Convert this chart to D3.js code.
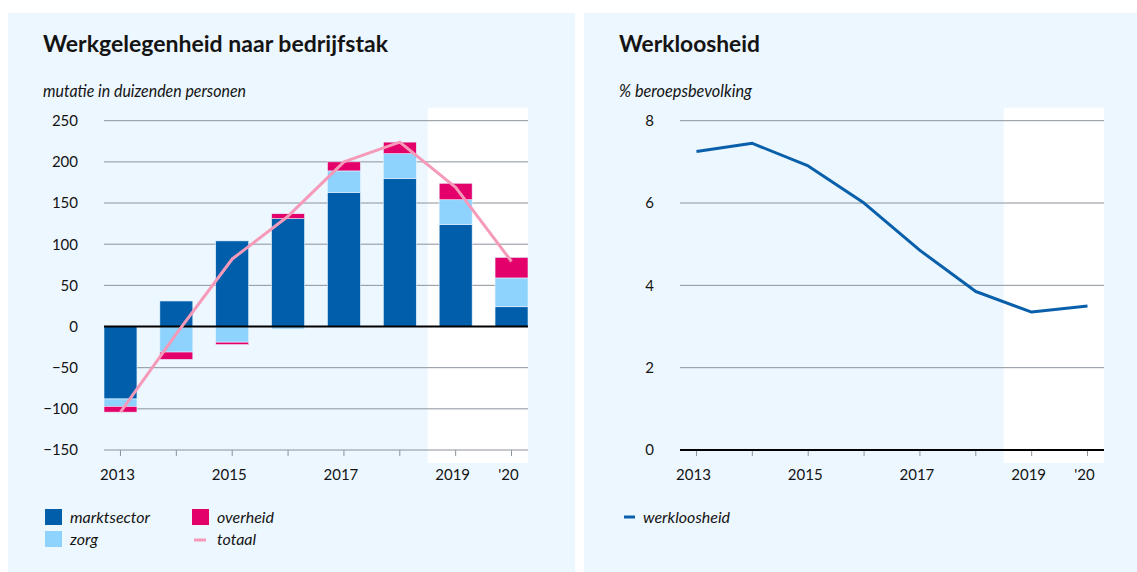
<!DOCTYPE html>
<html>
<head>
<meta charset="utf-8">
<script src="https://cdn.jsdelivr.net/npm/d3@7"></script>
<style>
  body { margin: 0; background: #fff; }
  svg { display: block; }
  text { font-family: Lato, "Open Sans", sans-serif; fill: #141414; }
</style>
</head>
<body>
<script>
// data
var years = ["2013", "2014", "2015", "2016", "2017", "2018", "2019", "2020"];
var xLabels = ["2013", "", "2015", "", "2017", "", "2019", "'20"];
var marktsector = [-88, 31, 104, 131, 163, 180, 124, 24];
var zorg = [-9, -31, -19, -3, 26, 30, 30, 35];
var overheid = [-7, -9, -3, 6, 11, 14, 20, 25];
var totaal = [-104, -9, 82, 134, 200, 224, 169, 79];
var jobTicks = [-150, -100, -50, 0, 50, 100, 150, 200, 250];

var werkloosheid = [7.25, 7.45, 6.9, 6.0, 4.85, 3.85, 3.35, 3.5];
var unempTicks = [0, 2, 4, 6, 8];

var firstForecast = "2019";

var colors = {
  marktsector: "#005eaa",
  zorg: "#8dd3fd",
  overheid: "#e3006b",
  totaal: "#f59ab8",
  werkloosheid: "#0a5fab"
};

var W = 1137, H = 572;
var panelBg = "#edf7ff";
var gridColor = "#8b939b";

var svg = d3.select("body")
  .append("svg")
  .attr("width", W)
  .attr("height", H);

// panels
svg.append("rect").attr("x", 8).attr("y", 13).attr("width", 567).attr("height", H - 13).attr("fill", panelBg);
svg.append("rect").attr("x", 584).attr("y", 13).attr("width", W - 584).attr("height", H - 13).attr("fill", panelBg);

function frame(g, x, y, ticks, left, right, top, bottom, zeroVal) {
  var bw = x.step();
  // forecast area
  var fx = x(firstForecast) - x.step() * x.paddingInner() / 2;
  g.append("rect")
    .attr("x", fx)
    .attr("y", top - 13)
    .attr("width", right - fx)
    .attr("height", bottom - top + 26)
    .attr("fill", "#ffffff");

  g.selectAll("line.grid")
    .data(ticks)
    .enter()
    .append("line")
    .attr("class", "grid")
    .attr("x1", left)
    .attr("x2", right)
    .attr("y1", function(d) { return y(d); })
    .attr("y2", function(d) { return y(d); })
    .attr("stroke", gridColor)
    .attr("stroke-width", 1);

  g.selectAll("text.ylab")
    .data(ticks)
    .enter()
    .append("text")
    .attr("class", "ylab")
    .attr("x", left - 26)
    .attr("y", function(d) { return y(d); })
    .attr("dy", "0.36em")
    .attr("text-anchor", "end")
    .attr("font-size", "15px")
    .text(function(d) { return d3.format("d")(d); });

  // x ticks under the bottom line
  g.selectAll("line.xtick")
    .data(years)
    .enter()
    .append("line")
    .attr("class", "xtick")
    .attr("x1", function(d) { return x(d) + x.bandwidth() / 2; })
    .attr("x2", function(d) { return x(d) + x.bandwidth() / 2; })
    .attr("y1", bottom)
    .attr("y2", bottom + 6)
    .attr("stroke", gridColor)
    .attr("stroke-width", 1);

  g.selectAll("text.xlab")
    .data(years)
    .enter()
    .append("text")
    .attr("class", "xlab")
    .attr("x", function(d) { return x(d) + x.bandwidth() / 2 - 3; })
    .attr("y", bottom + 30)
    .attr("text-anchor", "middle")
    .attr("font-size", "15px")
    .text(function(d, i) { return xLabels[i]; });
}

function zeroLine(g, y, left, right, v) {
  g.append("line")
    .attr("x1", left)
    .attr("x2", right)
    .attr("y1", y(v))
    .attr("y2", y(v))
    .attr("stroke", "#000")
    .attr("stroke-width", 2);
}

function title(g, x, txt, sub, tw, sw) {
  g.append("text")
    .attr("x", x)
    .attr("y", 52)
    .attr("font-size", "23px")
    .attr("font-weight", "bold")
    .attr("textLength", tw)
    .attr("lengthAdjust", "spacingAndGlyphs")
    .text(txt);
  g.append("text")
    .attr("x", x)
    .attr("y", 97)
    .attr("font-size", "16.5px")
    .attr("font-style", "italic")
    .attr("textLength", sw)
    .attr("lengthAdjust", "spacingAndGlyphs")
    .text(sub);
}

// ---------- left: werkgelegenheid ----------
function drawJobs() {
  var left = 104, right = 528, top = 120.7, bottom = 450;
  var g = svg.append("g");
  var x = d3.scaleBand().domain(years).range([left, right]).paddingInner(0.41).paddingOuter(0);
  var y = d3.scaleLinear().domain([-150, 250]).range([bottom, top]);

  title(g, 43, "Werkgelegenheid naar bedrijfstak", "mutatie in duizenden personen", 345, 203);
  frame(g, x, y, jobTicks, left, right, top, bottom);

  var rows = years.map(function(yr, i) {
    return { year: yr, marktsector: marktsector[i], zorg: zorg[i], overheid: overheid[i] };
  });
  var series = d3.stack()
    .keys(["marktsector", "zorg", "overheid"])
    .offset(d3.stackOffsetDiverging)(rows);

  g.selectAll("g.layer")
    .data(series)
    .enter()
    .append("g")
    .attr("class", "layer")
    .attr("fill", function(d) { return colors[d.key]; })
    .selectAll("rect")
    .data(function(d) { return d; })
    .enter()
    .append("rect")
    .attr("x", function(d) { return x(d.data.year); })
    .attr("width", x.bandwidth())
    .attr("y", function(d) { return y(Math.max(d[0], d[1])); })
    .attr("height", function(d) { return Math.abs(y(d[0]) - y(d[1])); })
    .attr("stroke", "#e6f3ff")
    .attr("stroke-width", 0.6);

  zeroLine(g, y, left, right, 0);

  var line = d3.line()
    .x(function(d, i) { return x(years[i]) + x.bandwidth() / 2; })
    .y(function(d) { return y(d); });
  g.append("path")
    .datum(totaal)
    .attr("d", line)
    .attr("fill", "none")
    .attr("stroke", colors.totaal)
    .attr("stroke-width", 3)
    .attr("stroke-linejoin", "round");

  // legend
  var lg = g.append("g").attr("font-size", "16px").attr("font-style", "italic");
  var sw = [
    { key: "marktsector", x: 45, y: 509 },
    { key: "zorg", x: 45, y: 531 },
    { key: "overheid", x: 192, y: 509 }
  ];
  lg.selectAll("rect")
    .data(sw)
    .enter()
    .append("rect")
    .attr("x", function(d) { return d.x; })
    .attr("y", function(d) { return d.y; })
    .attr("width", 17)
    .attr("height", 16)
    .attr("fill", function(d) { return colors[d.key]; });
  lg.selectAll("text")
    .data(sw.concat([{ key: "totaal", x: 192, y: 531 }]))
    .enter()
    .append("text")
    .attr("x", function(d) { return d.x + 25; })
    .attr("y", function(d) { return d.y + 14; })
    .text(function(d) { return d.key; });
  lg.append("line")
    .attr("x1", 194).attr("x2", 206)
    .attr("y1", 540).attr("y2", 540)
    .attr("stroke", colors.totaal)
    .attr("stroke-width", 3);
}

// ---------- right: werkloosheid ----------
function drawUnemp() {
  var left = 680, right = 1104, top = 120.7, bottom = 450;
  var g = svg.append("g");
  var x = d3.scaleBand().domain(years).range([left, right]).paddingInner(0.41).paddingOuter(0);
  var y = d3.scaleLinear().domain([0, 8]).range([bottom, top]);

  title(g, 619, "Werkloosheid", "% beroepsbevolking", 141, 133);
  frame(g, x, y, unempTicks, left, right, top, bottom);
  zeroLine(g, y, left, right, 0);

  var line = d3.line()
    .x(function(d, i) { return x(years[i]) + x.bandwidth() / 2; })
    .y(function(d) { return y(d); });
  g.append("path")
    .datum(werkloosheid)
    .attr("d", line)
    .attr("fill", "none")
    .attr("stroke", colors.werkloosheid)
    .attr("stroke-width", 3)
    .attr("stroke-linejoin", "round");

  g.append("line")
    .attr("x1", 624).attr("x2", 635)
    .attr("y1", 517).attr("y2", 517)
    .attr("stroke", colors.werkloosheid)
    .attr("stroke-width", 3);
  g.append("text")
    .attr("x", 643)
    .attr("y", 523)
    .attr("font-size", "16px")
    .attr("font-style", "italic")
    .text("werkloosheid");
}

drawJobs();
drawUnemp();
</script>
</body>
</html>
